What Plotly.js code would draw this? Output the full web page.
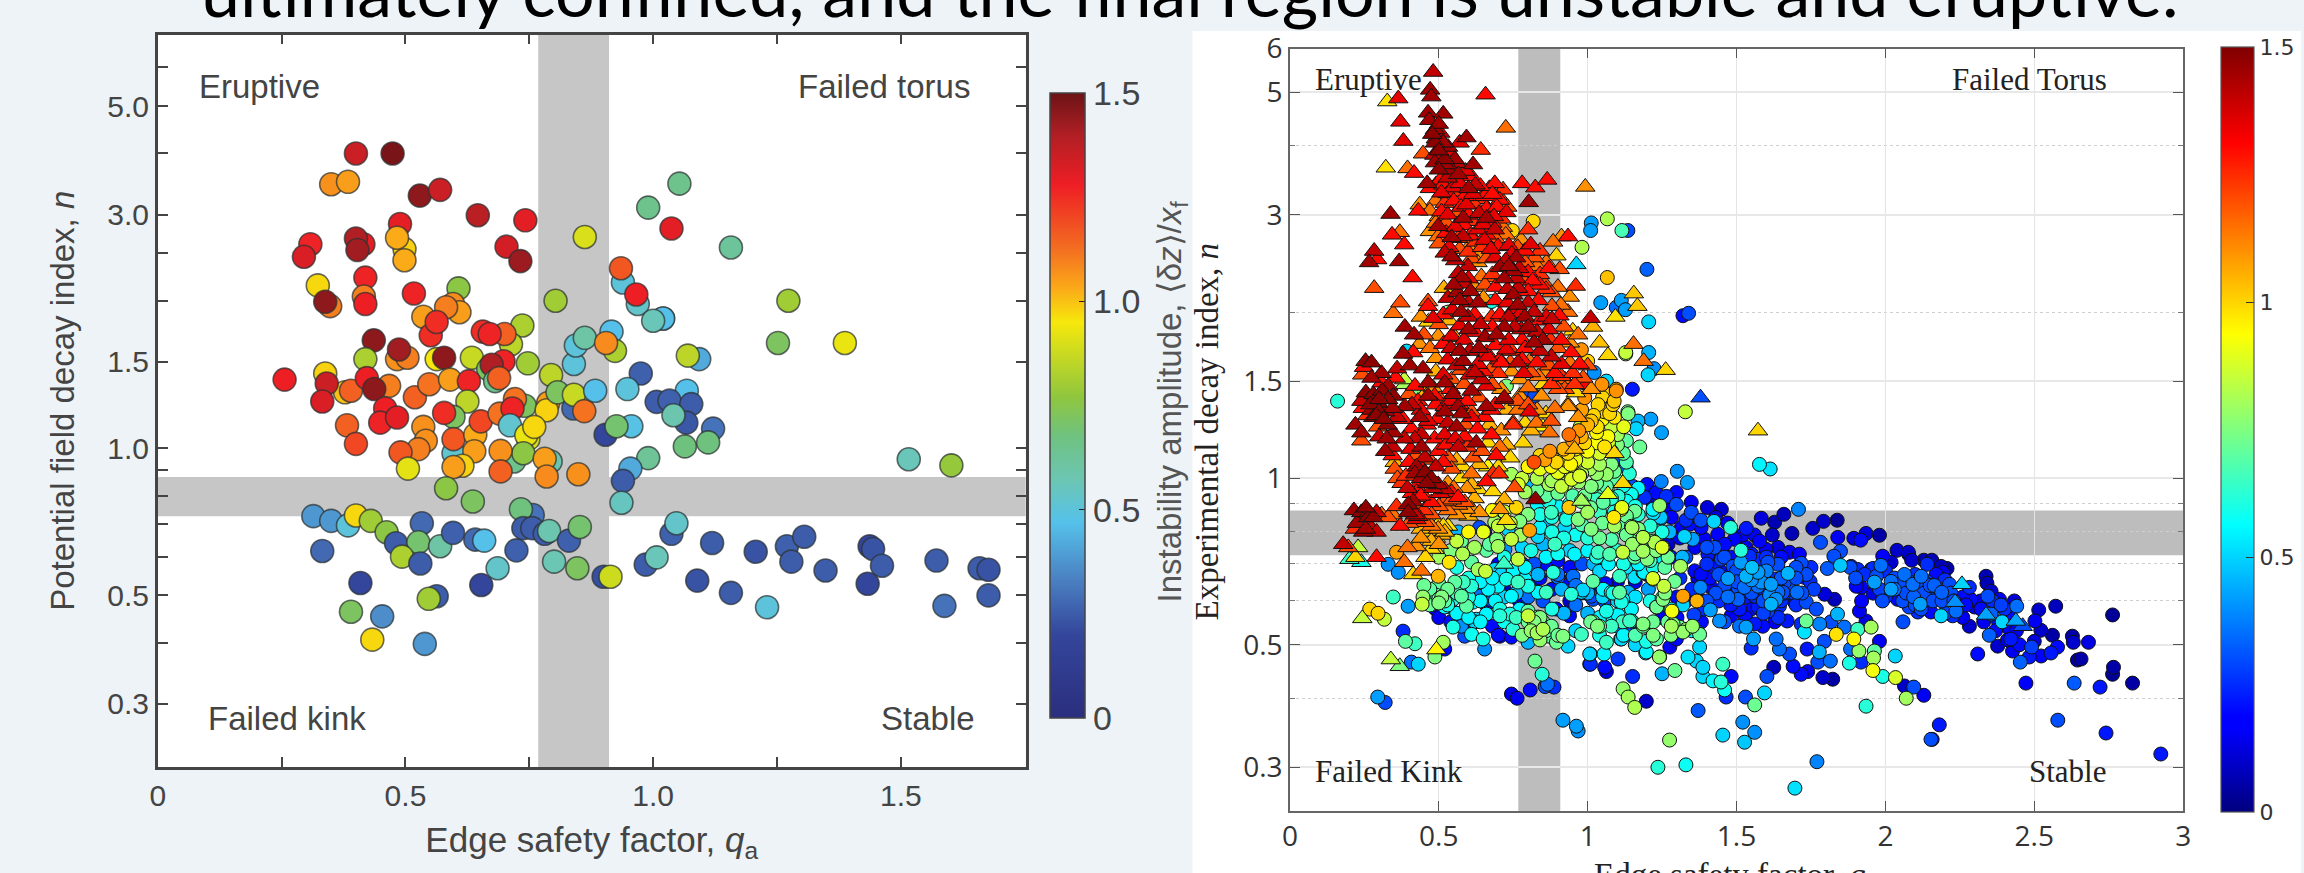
<!DOCTYPE html>
<html><head><meta charset="utf-8">
<script src="https://cdn.plot.ly/plotly-3.0.1.min.js"></script>
<style>html,body{margin:0;padding:0;background:#edf3f6;overflow:hidden}#c{width:2304px;height:873px}</style>
</head><body><div id="c"></div>
<script>
// [edge safety factor q, decay index n, instability amplitude]
const leftPoints=[[.40,4.0,1.35],[.474,4.0,1.48],[.35,3.46,1.07],[.384,3.5,1.05],[.529,3.28,1.45],[.57,3.37,1.35],[.646,2.99,1.38],[.742,2.92,1.3],[.489,2.87,1.3],[.498,2.55,.98],[.483,2.69,1.03],[.498,2.42,1.03],[.308,2.61,1.27],[.295,2.46,1.32],[.415,2.61,1.3],[.40,2.68,1.4],[.403,2.54,1.42],[.704,2.58,1.33],[.732,2.41,1.43],[1.037,2.81,1.3],[.99,3.1,.65],[1.053,3.47,.65],[1.157,2.57,.62],[.862,2.70,.9],[.939,2.18,.5],[.935,2.33,1.17],[.969,1.97,.53],[.966,2.06,1.28],[1.273,2.0,.8],[1.252,1.64,.72],[1.387,1.64,.93],[1.02,1.84,.25],[1.02,1.84,.47],[1.0,1.82,.56],[.803,2.0,.8],[.323,2.15,.97],[.348,1.95,1.1],[.338,1.99,1.45],[.419,2.23,1.27],[.416,2.04,1.1],[.419,1.97,1.28],[.517,2.07,1.27],[.607,2.12,.76],[.536,1.855,1.05],[.596,1.97,1.08],[.609,1.895,1.05],[.582,1.94,1.1],[.551,1.70,1.25],[.563,1.81,1.25],[.736,1.78,.82],[.713,1.63,.85],[.70,1.71,1.15],[.656,1.73,1.25],[.67,1.71,1.27],[.436,1.66,1.45],[.419,1.52,.82],[.483,1.52,1.07],[.504,1.53,1.1],[.487,1.59,1.42],[.563,1.52,.95],[.578,1.53,1.45],[.634,1.53,.87],[.747,1.49,.8],[.698,1.505,1.27],[.667,1.45,.72],[.674,1.48,1.4],[.681,1.37,.65],[.689,1.39,1.15],[.794,1.41,.85],[.256,1.38,1.28],[.338,1.42,.98],[.378,1.3,1.0],[.341,1.355,1.35],[.39,1.31,1.15],[.467,1.34,1.1],[.422,1.39,1.28],[.437,1.32,1.45],[.332,1.245,1.32],[.519,1.27,1.15],[.548,1.35,1.12],[.59,1.38,1.05],[.628,1.37,1.27],[.625,1.245,.85],[.459,1.205,1.28],[.449,1.127,1.27],[.483,1.155,1.3],[.597,1.158,.72],[.578,1.18,1.25],[.382,1.113,1.15],[.40,1.02,1.2],[.536,1.105,1.07],[.541,1.035,1.07],[.526,.995,1.1],[.49,.98,1.17],[.597,.976,.52],[.597,1.043,1.17],[.641,1.065,1.03],[.652,1.134,1.2],[.639,.985,1.05],[.741,1.22,.72],[.69,1.176,1.12],[.721,1.26,1.12],[.716,1.205,1.27],[.788,1.236,1.05],[.785,1.195,.98],[.711,1.113,.52],[.748,1.043,.9],[.744,1.062,.93],[.76,1.105,.97],[.719,.939,.65],[.738,.976,.76],[.692,.987,1.07],[.692,.896,1.15],[.615,.92,.98],[.597,.915,1.05],[.505,.908,.92],[.807,1.30,.72],[.839,1.205,.28],[.84,1.285,.87],[.861,1.19,1.12],[.883,1.31,.47],[.84,1.485,.5],[.844,1.62,.5],[.862,1.68,.6],[.916,1.73,.47],[.923,1.58,.82],[.905,1.64,1.08],[1.093,1.52,.42],[1.07,1.545,.85],[.975,1.42,.26],[.948,1.32,.5],[1.068,1.31,.47],[1.007,1.243,.25],[1.033,1.25,.26],[1.077,1.23,.25],[1.067,1.127,.24],[1.041,1.167,.58],[1.121,1.096,.3],[.904,1.065,.2],[.956,1.108,.48],[.926,1.108,.7],[1.064,1.008,.68],[1.111,1.027,.68],[.99,.954,.63],[.954,.908,.42],[.939,.857,.25],[.936,.773,.55],[.793,.939,.58],[.781,.951,1.05],[.785,.875,1.08],[.849,.884,1.07],[.582,.828,.76],[.636,.778,.72],[.757,.73,.3],[.733,.75,.68],[.314,.726,.38],[.35,.71,.38],[.384,.695,.5],[.40,.728,.97],[.43,.71,.8],[.462,.673,.76],[.481,.639,.25],[.533,.702,.28],[.526,.642,.7],[.493,.60,.82],[.57,.63,.6],[.596,.671,.26],[.641,.65,.28],[.659,.647,.47],[.738,.686,.25],[.756,.686,.25],[.781,.668,.25],[.79,.677,.58],[.83,.647,.26],[.852,.69,.7],[.724,.618,.26],[.53,.581,.25],[.332,.616,.28],[.409,.53,.2],[.653,.525,.2],[.686,.568,.53],[.80,.586,.57],[.847,.568,.72],[.90,.546,.22],[.914,.546,.88],[.563,.498,.25],[.547,.492,.8],[.39,.463,.72],[.453,.453,.36],[.433,.406,.97],[.539,.398,.38],[.985,.578,.25],[1.007,.598,.56],[1.037,.668,.26],[1.047,.702,.53],[1.119,.64,.25],[1.207,.614,.23],[1.27,.63,.26],[1.279,.586,.25],[1.305,.659,.25],[1.089,.536,.23],[1.157,.506,.25],[1.23,.473,.5],[1.348,.562,.25],[1.437,.63,.2],[1.444,.622,.23],[1.462,.575,.25],[1.433,.528,.2],[1.572,.589,.25],[1.588,.476,.3],[1.659,.568,.25],[1.677,.564,.23],[1.677,.50,.25],[1.516,.949,.56],[1.602,.922,.78]];

const rightTriangles=[[.481,5.44,1.4],[.471,5.05,1.45],[.475,4.91,1.45],[.657,4.95,1.3],[.327,4.81,.98],[.364,4.87,1.35],[.464,4.59,1.45],[.515,4.57,1.45],[.371,4.42,1.35],[.725,4.31,1.15],[.381,4.08,1.35],[.487,4.28,1.45],[.593,4.14,1.45],[.57,4.05,1.35],[.641,3.93,1.25],[.447,3.87,1.2],[.322,3.65,.98],[.395,3.64,1.15],[.417,3.57,1.3],[.487,4.05,1.48],[.531,3.98,1.45],[.52,3.78,1.48],[.487,3.73,1.45],[.554,3.78,1.45],[.615,3.70,1.45],[.542,3.62,1.45],[.992,3.37,1.1],[.78,3.42,1.3],[.824,3.36,1.3],[.864,3.47,1.3],[.802,3.16,1.45],[.461,3.42,1.45],[.688,3.42,1.3],[.716,3.33,1.25],[.623,3.40,1.4],[.548,3.36,1.35],[.509,3.29,1.35],[.587,3.24,1.3],[.654,3.24,1.3],[.705,3.19,1.3],[.436,3.13,1.1],[.431,3.05,1.3],[.338,3.01,1.45],[.727,3.03,1.35],[.509,3.04,1.3],[.593,3.13,1.35],[.66,2.96,1.45],[.582,2.96,1.45],[.498,2.86,1.45],[.343,2.76,1.3],[.369,2.79,1.15],[.688,2.82,1.4],[.80,2.82,1.25],[.543,2.73,1.45],[.582,2.74,1.4],[.632,2.82,1.35],[.498,2.74,1.15],[.934,2.74,1.3],[.884,2.68,1.15],[.912,2.74,1.1],[.384,2.65,1.3],[.283,2.58,1.4],[.266,2.46,1.45],[.293,2.49,1.3],[.367,2.47,1.45],[.777,2.70,1.1],[.809,2.65,1.35],[.654,2.70,1.35],[.699,2.63,1.3],[.52,2.56,1.4],[.543,2.52,1.45],[.598,2.57,1.25],[.637,2.54,1.1],[.688,2.51,1.35],[.76,2.51,1.45],[.822,2.51,1.2],[.895,2.53,1.0],[.861,2.46,1.15],[.906,2.39,1.2],[.962,2.44,.5],[.598,2.42,1.4],[.705,2.41,1.45],[.75,2.37,1.45],[.643,2.32,1.15],[.677,2.31,1.2],[.578,2.31,1.45],[.412,2.31,1.3],[.283,2.21,1.2],[.517,2.21,1.05],[.563,2.17,1.45],[.607,2.18,1.45],[.766,2.21,1.4],[.839,2.24,1.3],[.878,2.17,1.2],[.96,2.23,1.25],[.94,2.13,1.1],[1.155,2.16,1.02],[1.167,2.05,1.02],[1.093,1.96,.98],[.371,2.08,1.2],[.347,1.99,1.15],[.464,2.09,1.2],[.464,2.05,1.3],[.481,1.95,1.35],[.515,1.98,1.3],[.632,2.08,1.45],[.598,1.96,1.4],[.677,1.96,1.25],[.75,2.02,1.35],[.789,1.96,1.45],[.861,1.96,1.35],[.934,2.0,1.15],[1.01,1.95,1.4],[1.018,1.88,1.05],[.386,1.88,1.45],[.417,1.82,1.45],[.621,1.84,1.3],[.777,1.86,1.4],[.85,1.78,1.45],[.911,1.78,1.3],[.968,1.82,1.15],[1.04,1.76,1.03],[1.068,1.67,1.0],[1.154,1.75,1.15],[1.188,1.63,1.15],[1.262,1.57,1.0],[1.379,1.40,.3],[1.572,1.22,1.0],[.498,1.81,1.1],[.543,1.81,1.35],[.515,1.75,1.3],[.414,1.69,1.3],[.38,1.68,1.45],[.403,1.60,1.45],[.447,1.58,1.45],[.604,1.70,1.4],[.66,1.69,1.3],[.727,1.71,1.35],[.705,1.64,1.3],[.766,1.62,1.4],[.805,1.63,1.15],[.878,1.66,1.4],[.945,1.69,1.3],[.912,1.61,1.35],[.973,1.61,1.3],[.582,1.63,1.45],[.632,1.61,1.35],[.254,1.63,1.48],[.274,1.62,1.48],[.308,1.55,1.45],[.249,1.59,1.3],[.243,1.54,1.2],[.274,1.52,1.45],[.308,1.49,1.3],[.384,1.51,.85],[.386,1.48,.8],[.464,1.49,1.45],[.52,1.49,1.45],[.543,1.51,1.2],[.61,1.44,1.45],[.643,1.51,1.4],[.66,1.47,1.35],[.772,1.51,1.1],[.845,1.41,1.1],[.923,1.51,1.15],[.956,1.48,1.25],[.878,1.48,1.25],[.621,1.555,1.4],[.515,1.54,1.35],[.677,1.58,1.2],[.71,1.62,1.3],[.81,1.555,1.2],[.855,1.555,1.1],[.912,1.53,1.25],[1.012,1.45,1.1],[.923,1.45,1.2],[.464,1.41,1.45],[.52,1.35,1.35],[.565,1.35,1.45],[.61,1.32,1.2],[.654,1.29,1.3],[.72,1.40,1.45],[.75,1.26,1.2],[.805,1.32,1.35],[.878,1.27,1.2],[.934,1.36,1.05],[.968,1.29,1.1],
[.347,1.41,1.48],[.296,1.37,1.48],[.319,1.32,1.45],[.263,1.40,1.3],[.386,1.35,1.45],[.28,1.29,1.48],[.328,1.25,1.48],[.296,1.24,1.2],[.22,1.25,1.45],[.24,1.21,1.45],[.24,1.17,1.2],[.347,1.21,1.45],[.408,1.23,1.3],[.436,1.29,1.45],[.464,1.27,1.35],[.52,1.32,1.45],[.576,1.31,1.45],[.61,1.29,1.35],[.486,1.41,1.3],[.548,1.42,1.45],[.453,1.42,1.05],[.57,1.36,1.3],[.677,1.33,1.3],[.719,1.39,1.4],[.772,1.41,1.1],[.766,1.33,1.15],[.749,1.25,1.25],[.828,1.26,1.15],[.934,1.35,1.1],[.872,1.21,1.15],[.956,1.13,1.05],[1.09,1.11,1.0],[.677,1.20,1.3],[.587,1.19,1.3],[.52,1.20,1.35],[.486,1.18,1.3],[.442,1.20,1.4],[.442,1.14,1.45],[.42,1.18,1.4],[.626,1.16,1.45],[.565,1.14,1.4],[.453,1.09,1.4],[.531,1.09,1.2],[.615,1.09,1.2],[.693,1.10,1.3],[.727,1.15,1.05],[.783,1.16,1.0],[.352,1.04,1.2],[.361,1.0,1.2],[.375,.98,1.25],[.352,1.07,1.05],[.61,1.02,1.15],[.543,1.04,1.2],[.682,1.02,1.25],[.702,1.02,1.25],[.66,.987,1.3],[.632,.955,1.0],[.61,.975,1.05],[.682,.947,1.0],[.755,.963,1.2],[.72,.916,1.05],[.705,.879,1.1],[.825,.916,1.48],[.425,.967,1.3],[.453,1.025,1.48],[.475,1.0,1.48],[.498,.975,1.45],[.52,.955,1.4],[.543,.943,1.3],[.565,.924,1.3],[.587,.905,1.2],[.61,.88,1.1],[.637,.868,1.1],[.425,.943,1.3],[.453,.924,1.25],[.475,.905,1.3],[.52,.908,1.2],[.397,.897,1.48],[.414,.908,1.45],[.358,.89,1.25],[.33,.85,1.2],[.308,.86,1.15],[.24,.868,1.48],[.265,.868,1.48],[.263,.85,1.48],[.291,.868,1.4],[.397,.868,1.48],[.425,.843,1.35],[.431,.854,1.4],[.453,.833,1.2],[.475,.82,1.15],[.498,.81,1.1],[.509,.79,1.05],[.475,.77,1.05],[.486,.744,1.0],[.425,.753,1.1],[.531,.82,.98],[.498,.826,1.0],[.52,.80,1.05],[.218,.81,1.25],[.246,.80,1.45],[.268,.82,1.4],[.291,.80,1.4],[.179,.76,1.4],[.196,.75,1.2],[.229,.75,.85],[.22,.72,1.0],[.24,.705,.6],[.291,.72,1.3],[.2,.714,.65],[.384,.705,1.15],[.442,.68,1.15],[.414,.67,1.0],[.719,.70,.65],[.492,.49,.95],[.339,.47,.85],[.369,.457,.75],[.243,.558,.85],[.727,.84,1.0],[1.118,.98,1.0],[1.068,.936,.9],[.979,.91,.8],[2.257,.643,.5],[2.234,.597,.4],[2.338,.566,.43],[2.438,.552,.43],[2.461,.54,.3]];

const rightTrianglesCore=[[.468,4.45,1.45],[.50,4.38,1.45],[.478,4.2,1.48],[.505,4.22,1.4],[.49,4.12,1.45],[.515,4.05,1.45],[.50,3.92,1.48],[.535,3.9,1.35],[.485,3.85,1.4],[.52,3.7,1.45],[.50,3.62,1.48],[.56,3.72,1.4],[.59,3.6,1.35],[.565,3.55,1.45],[.53,3.5,1.4],[.61,3.52,1.3],[.505,3.47,1.3],
[.47,3.35,1.3],[.49,3.4,1.25],[.515,3.4,1.3],[.57,3.42,1.35],[.60,3.35,1.45],[.64,3.38,1.3],[.67,3.35,1.25],[.53,3.28,1.3],[.56,3.3,1.25],[.615,3.27,1.35],[.64,3.2,1.25],[.68,3.27,1.3],[.71,3.2,1.2],[.49,3.18,1.15],[.52,3.15,1.25],[.55,3.18,1.3],[.575,3.1,1.3],[.62,3.13,1.25],[.66,3.08,1.3],[.695,3.1,1.3],[.73,3.1,1.2],[.47,3.05,1.15],[.50,2.98,1.1],[.53,3.0,1.35],[.56,3.03,1.2],[.60,3.0,1.3],[.635,3.02,1.4],[.685,2.98,1.35],[.71,2.95,1.25],[.49,2.9,1.15],[.525,2.9,1.2],[.555,2.85,1.35],[.585,2.87,1.3],[.615,2.92,1.25],[.65,2.88,1.35],[.68,2.9,1.3],[.715,2.85,1.15],[.47,2.8,1.1],
[.525,2.78,1.3],[.565,2.72,1.25],[.605,2.75,1.3],[.625,2.68,1.25],[.66,2.76,1.3],[.69,2.72,1.2],[.725,2.76,1.15],[.50,2.66,1.2],[.535,2.62,1.35],[.57,2.6,1.2],[.60,2.62,1.1],[.645,2.62,1.25],[.675,2.6,1.35],[.735,2.64,1.35],[.765,2.62,1.2],[.79,2.58,1.3],[.84,2.58,1.25],[.555,2.48,1.4],[.61,2.5,1.2],[.63,2.46,1.1],[.66,2.5,1.2],[.725,2.48,1.4],[.745,2.55,1.35],[.79,2.46,1.2],[.83,2.42,1.15],[.87,2.4,1.3],[.735,2.42,1.45],[.77,2.40,1.4],[.80,2.36,1.3],[.84,2.34,1.25],[.68,2.34,1.25],[.72,2.30,1.45],[.76,2.3,1.4],[.785,2.28,1.2],[.815,2.28,1.3],[.85,2.27,1.2],[.565,2.35,1.4],[.60,2.3,1.35],[.55,2.24,1.45],[.585,2.25,1.4],[.62,2.22,1.1],[.655,2.24,1.2],[.69,2.22,1.3],[.73,2.2,1.4],[.75,2.15,1.45],[.80,2.18,1.3],[.86,2.2,1.25],[.90,2.22,1.15],
[.53,2.12,1.4],[.57,2.1,1.45],[.60,2.08,1.4],[.65,2.12,1.1],[.69,2.1,1.3],[.73,2.08,1.35],[.765,2.06,1.45],[.80,2.08,1.4],[.835,2.1,1.3],[.88,2.05,1.2],[.91,2.06,1.15],[.545,2.02,1.35],[.575,2.0,1.45],[.62,1.98,1.3],[.705,1.98,1.3],[.735,1.96,1.4],[.775,1.99,1.35],[.82,2.0,1.4],[.84,1.93,1.3],[.88,1.94,1.4],[.905,1.97,1.3],[.44,1.96,1.1],[.465,1.92,1.0],[.50,1.9,1.2],[.535,1.93,1.05],[.57,1.89,1.35],[.60,1.86,1.45],[.64,1.9,1.4],[.68,1.88,1.3],[.72,1.88,1.45],[.755,1.88,1.4],[.80,1.88,1.45],[.83,1.84,1.4],[.87,1.86,1.35],[.92,1.88,1.2],[.95,1.85,1.0],[.45,1.82,1.2],[.555,1.8,1.1],[.585,1.78,1.35],[.655,1.8,1.45],[.695,1.82,1.45],[.735,1.78,1.35],[.78,1.78,1.3],[.82,1.76,1.45],[.875,1.78,1.25],[.94,1.76,1.1],
[.435,1.75,1.1],[.47,1.72,1.15],[.54,1.72,1.4],[.57,1.7,1.45],[.635,1.72,1.45],[.69,1.74,1.3],[.745,1.7,1.25],[.79,1.72,1.3],[.84,1.7,1.4],[.90,1.72,1.2],[.49,1.65,1.1],[.53,1.64,1.35],[.56,1.6,1.4],[.665,1.66,1.35],[.74,1.62,1.2],[.78,1.64,1.3],[.83,1.62,1.3],[.87,1.6,1.2],[.94,1.62,1.15],[1.0,1.6,1.2],[.36,1.58,1.4],[.49,1.56,1.05],[.575,1.57,1.2],[.605,1.54,1.35],[.65,1.56,1.3],[.70,1.55,1.25],[.745,1.56,1.1],[.785,1.55,1.35],[.835,1.53,1.15],[.89,1.55,1.3],[.95,1.55,1.25],[.985,1.52,1.2],[.355,1.52,1.3],[.33,1.47,1.45],[.42,1.47,1.3],[.48,1.46,1.1],[.54,1.45,1.3],[.585,1.48,1.2],[.68,1.48,1.2],[.71,1.45,1.1],[.80,1.46,1.15],[.85,1.48,1.0],[.90,1.45,1.2],[.96,1.43,1.0],
[.255,1.43,1.48],[.28,1.42,1.48],[.31,1.44,1.48],[.33,1.39,1.48],[.24,1.38,1.4],[.27,1.36,1.48],[.30,1.39,1.48],[.245,1.34,1.3],[.275,1.33,1.45],[.30,1.32,1.48],[.345,1.34,1.45],[.26,1.3,1.25],[.29,1.3,1.48],[.315,1.28,1.48],[.36,1.29,1.4],[.38,1.28,1.3],[.41,1.36,1.4],[.43,1.38,1.3],[.40,1.42,1.2],[.44,1.33,1.35],[.49,1.36,1.3],[.505,1.39,1.2],[.54,1.38,1.35],[.595,1.38,1.3],[.635,1.4,1.2],[.66,1.35,1.45],[.69,1.36,1.3],[.73,1.33,1.05],[.765,1.38,1.2],[.80,1.36,1.2],[.83,1.33,1.1],[.86,1.31,1.0],[.89,1.34,1.15],[.46,1.25,1.3],[.495,1.28,1.3],[.53,1.26,1.4],[.56,1.24,1.45],[.59,1.25,1.2],[.63,1.23,1.3],[.67,1.25,1.05],[.71,1.22,1.1],[.79,1.26,1.0],[.81,1.22,1.05],[.85,1.24,.95],
[.30,1.19,1.4],[.325,1.18,1.45],[.345,1.14,1.4],[.32,1.12,1.45],[.345,1.1,1.3],[.385,1.18,1.4],[.405,1.13,1.35],[.425,1.1,1.2],[.40,1.07,1.3],[.425,1.05,1.45],[.445,1.04,1.35],[.47,1.08,1.2],[.50,1.12,1.3],[.525,1.15,1.3],[.555,1.18,1.35],[.595,1.14,1.25],[.645,1.12,1.2],[.665,1.16,1.0],[.705,1.14,1.15],[.74,1.09,1.0],[.49,1.05,1.4],[.515,1.07,1.3],[.56,1.08,1.05],[.58,1.05,1.0],[.635,1.06,1.05],[.665,1.05,.95],[.70,1.05,1.0],[.39,1.01,1.25],[.42,1.02,1.45],[.44,1.0,1.45],[.46,.98,1.48],[.48,.96,1.4],[.505,.94,1.35],[.53,.98,1.1],[.55,.96,1.15],[.575,1.0,1.0],[.595,.96,1.1],[.62,.92,1.05],[.545,.915,1.2],[.565,.895,1.15],[.59,.88,1.1],[.41,.94,1.3],[.395,.96,1.4],[.44,.93,1.3],[.50,.89,1.2],[.53,.875,1.15],[.56,.86,1.1],[.60,.855,1.05],[.42,.89,1.2],[.45,.875,1.25],[.475,.86,1.2],[.42,.86,1.4],[.40,.83,1.2],[.44,.81,1.05],[.465,.80,1.0],[.455,.84,1.1],[.49,.78,1.0],[.44,.78,1.1],[.475,.745,1.0],[.455,.72,1.0],[.50,.76,1.1],[.515,.82,1.0],[.395,.75,1.15],[.37,.82,1.3],[.345,.86,1.15],[.25,.85,1.45],[.28,.85,1.48],[.255,.885,1.48],[.225,.83,1.45],[.255,.81,1.45],[.215,.875,1.45]];

const rightCircles=[[.979,1.71,1.1],[1.128,1.69,.85],[1.205,1.69,.45],[1.223,1.58,.4],[1.203,1.54,.5],[1.15,1.45,.22],[1.096,1.44,1.1],[1.048,1.48,1.1],[1.063,1.50,.5],[1.022,1.555,.4],[1.0,1.63,1.0],[.987,1.49,1.32],[.99,1.40,1.1],[1.089,1.38,1.02],[1.068,1.42,1.0],[1.05,1.40,1.0],[1.074,1.34,1.0],[1.057,1.32,1.0],[1.074,1.31,1.0],[1.09,1.29,.97],[1.136,1.31,.75],[1.169,1.27,.45],[1.212,1.28,.42],[1.328,1.32,.85],[1.248,1.21,.42],[1.121,1.24,.9],[1.012,1.27,1.02],[1.032,1.24,.98],[1.13,1.17,.7],[1.163,1.23,.5],[1.175,1.14,.72],[1.068,1.19,.93],[1.057,1.14,.98],[.979,1.19,1.05],[.937,1.20,1.15],[.873,1.12,1.1],[.82,1.07,1.2],[.856,1.08,1.08],[.895,1.07,1.0],[.934,1.11,1.0],[.943,1.06,.95],[.974,1.01,.85],[1.007,1.04,.8],[1.063,1.017,.78],[1.019,.967,.7],[1.046,.967,.68],[1.093,.996,.7],[1.129,1.05,.35],[1.102,1.07,.3],[1.152,.967,.3],[1.301,1.03,.4],[1.335,.983,.42],[1.247,.987,.38],[1.199,.975,.2],[1.298,.943,.2],[1.23,.943,.2],[1.264,.928,.25],[1.205,.928,.1],[.87,.975,.8],[.912,.967,.85],[.946,.996,.88],[.90,1.025,.9],[.744,1.017,.8],[.805,.967,.45],[.87,.908,.6],[.89,.943,.4],[.937,.886,1.02],[.968,.843,.75],[.929,.843,.6],[1.05,.928,.65],[1.113,.879,.9],[1.088,.85,.97],[1.149,.935,.55],[1.16,.89,.6],[1.242,.893,.78],[1.245,.85,.48],
[.16,1.38,.62],[.428,1.42,.75],[1.096,1.45,1.07],[1.035,1.36,1.0],[1.085,1.36,1.0],[1.135,1.32,.72],[.975,1.24,.85],[.923,1.05,.9],[.878,1.05,.95],[.767,.975,.88],[.811,.967,.45],[.973,1.01,.88],[1.063,.967,.7],[1.012,.967,.75],[1.102,.928,.62],[1.147,.935,.58],[1.191,.924,.25],[.979,.908,.75],[1.0,.868,.8],[1.012,.809,.75],[.973,.843,.65],[1.052,.905,.7],[1.115,.886,.9],[1.147,.819,.75],[1.186,.782,.8],[1.113,.815,.7],[1.225,.766,.82],[1.253,.75,.85],[1.118,.735,.85],[1.169,.776,.72],[.878,.916,.5],[.878,.868,.65],[.861,.836,.45],[.923,.815,.5],[.76,.886,1.0],[.80,.861,.75],[.772,.836,.75],[.805,.805,1.08],[.744,.776,.85],[.775,.789,.8],[.699,.753,.8],[.66,.741,.7],[.688,.833,.8],[.733,.809,.5],[.833,.785,.5],[.85,.76,.45],[.89,.76,.65],[.576,.77,.72],[.535,.705,.98],[.498,.665,1.05],[.766,.714,.85],[.657,.679,.85],[.632,.684,.8],[.61,.705,.7],[.766,.649,.65],[.727,.657,.6],[.688,.684,.5],[.699,.638,.55],[.666,.63,.55],[.744,.612,.55],[.789,.657,.55],[.833,.67,.45],[.884,.676,.62],[.956,.729,.55],[1.035,.735,.65],[1.074,.729,.68],[1.04,.679,.5],[1.018,.651,.7],[1.085,.62,.6],[1.13,.699,.5],[1.186,.676,.55],[1.22,.657,.8],[1.256,.638,.85],[1.253,.604,.75],[1.231,.585,.72],[1.281,.54,.8],[1.186,.54,.72],[1.197,.507,.6],[1.197,.485,.55],[1.241,.475,.78],[1.118,.604,.55],[1.147,.58,.55],[1.107,.622,.7],[1.063,.575,.6],[1.085,.561,.55],[1.118,.55,.65],[1.147,.552,.62],[1.063,.505,.65],[1.007,.481,.5],[1.102,.471,.27],[1.007,.461,.2],[1.057,.455,.2],[1.111,.512,.4],[1.141,.522,.3],[.912,.63,.45],[.979,.622,.5],[.945,.617,.62],[1.052,.63,.55],[1.018,.604,.3],[.861,.622,.65],[.833,.622,.55],[.80,.638,.6],[.895,.58,.2],[.939,.564,.2],[.80,.564,.85],[.85,.533,.82],[.822,.54,.72],[.833,.561,.75],[.878,.54,.72],[.917,.518,.75],[.895,.505,.72],[.873,.518,.7],[.979,.522,.65],[1.018,.55,.72],[1.04,.54,.7],[.934,.497,.5],[.80,.505,.45],[.749,.533,.62],[.705,.58,.6],[.739,.568,.6],[.772,.58,.55],[.626,.556,.5],[.66,.568,.55],[.705,.564,.62],[.705,.518,.2],[.744,.516,.2],[.654,.491,.4],[.61,.522,.58],[.649,.512,.6],[.621,.55,.5],[.587,.518,.3],[.576,.54,.4],[.548,.538,.6],[.593,.587,.7],[.615,.597,.55],[.576,.612,.7],[.61,.638,.62],[.582,.649,.65],[.554,.649,.7],[.637,.612,.35],[.671,.604,.3],[.654,.665,.45],[.52,.622,.7],[.548,.604,.6],[.492,.604,.45],[.537,.585,.3],[.447,.61,.78],[.444,.592,.85],[.489,.58,.15],[.397,.587,.42],[.347,.61,.65],[.268,.58,1.0],[.296,.57,1.0],[.317,.556,.85],[.38,.529,.25],[.388,.507,.7],[.42,.502,.65],[.515,.505,.8],[.52,.491,.2],[.431,.461,.5],[.408,.465,.35],[.487,.475,.75],[.33,.699,.4],[.364,.676,.4],[.358,.735,1.08],[.565,.80,.45],[.654,.80,.2],[.637,.815,.3],[.722,.744,.4],[.694,.776,.75],
[1.577,1.06,.55],[1.613,1.04,.52],[1.158,.872,.72],[1.149,.815,.8],[1.186,.782,.83],[1.25,.75,.88],[1.22,.77,.75],[1.186,.738,.8],[1.158,.72,.7],[1.2,.714,.75],[1.219,.879,.55],[1.247,.847,.45],[1.298,.897,.3],[1.348,.868,.3],[1.348,.905,.15],[1.402,.886,.12],[1.449,.879,.1],[1.424,.836,.5],[1.48,.815,.62],[1.325,.785,.5],[1.381,.815,.2],[1.281,.85,.18],[1.315,.815,.18],[1.342,.826,.2],[1.353,.776,.42],[1.275,.80,.45],[1.392,.776,.15],[1.437,.792,.18],[1.426,.75,.3],[1.404,.729,.22],[1.459,.72,.3],[1.493,.776,.18],[1.533,.812,.22],[1.583,.847,.12],[1.628,.833,.07],[1.659,.861,.08],[1.708,.879,.38],[1.686,.795,.07],[1.756,.812,.1],[1.792,.836,.1],[1.838,.84,.03],[1.782,.766,.3],[1.84,.782,.15],[1.894,.779,.12],[1.917,.773,.2],[1.935,.795,.12],[1.98,.789,.05],[2.039,.741,.1],[2.077,.735,.1],[1.849,.738,.3],[1.827,.723,.3],[1.805,.687,.32],[1.849,.696,.48],[1.885,.693,.25],[1.991,.723,.18],[1.985,.696,.35],[1.952,.684,.22],[1.902,.638,.18],[1.919,.635,.15],[1.958,.62,.13],[1.963,.649,.42],[2.019,.63,.42],[2.064,.67,.35],[2.092,.643,.35],[2.12,.665,.35],[2.117,.592,.42],[1.99,.6,.3],[2.058,.6,.3],[2.14,.699,.25],[2.13,.649,.3],[1.639,.75,.12],[1.577,.77,.18],[1.532,.75,.15],[1.599,.744,.15],[1.678,.735,.15],[1.711,.729,.18],[1.515,.741,.62],[1.514,.705,.42],[1.552,.69,.47],[1.572,.676,.42],[1.639,.699,.3],[1.673,.673,.45],[1.717,.702,.3],[1.734,.67,.3],[1.747,.651,.25],[1.616,.643,.42],[1.532,.665,.45],[1.471,.659,.42],[1.426,.69,.22],[1.449,.676,.2],[1.37,.659,.12],[1.379,.635,.38],[1.415,.635,.17],[1.505,.635,.3],[1.572,.638,.35],[1.673,.638,.3],[1.703,.622,.35],[1.611,.615,.4],[1.561,.612,.25],[1.533,.61,.22],[1.616,.592,.45],[1.471,.61,.35],[1.734,.597,.3],[1.768,.58,.3],[1.695,.597,.2],[1.644,.587,.25],[1.572,.585,.22],[1.51,.58,.22],[1.412,.578,.42],[1.357,.566,.28],[1.382,.55,.2],[1.443,.552,.4],[1.482,.564,.18],[1.51,.54,.35],[1.532,.538,.42],[1.561,.545,.22],[1.588,.54,.2],[1.628,.55,.15],[1.67,.552,.22],[1.717,.545,.25],[1.734,.552,.72],[1.728,.527,.52],[1.779,.545,.38],[1.796,.617,.12],[1.829,.604,.08],[1.839,.568,.45],[1.835,.522,.98],[1.894,.512,.95],[1.913,.575,.15],[1.935,.552,.12],[1.907,.533,.65],[1.952,.538,.8],[1.98,.507,.15],[1.862,.538,.35],[1.817,.55,.3],[1.795,.507,.3],[2.059,.55,.3],[2.033,.477,.5],[1.911,.487,.78],[1.879,.463,.6],[1.963,.487,.7],[1.96,.473,.8],[1.958,.449,.92],[2.034,.436,.88],[1.991,.438,.6],[1.883,.491,.35],[1.918,.465,.25],[1.778,.485,.45],[1.815,.467,.35],[1.773,.465,.3],[1.737,.491,.22],[1.79,.436,.1],[1.823,.433,.05],[1.739,.447,.15],[1.717,.442,.2],[1.69,.457,.2],[1.678,.481,.3],[1.644,.491,.35],[1.633,.512,.35],[1.549,.493,.25],[1.557,.512,.42],[1.625,.455,.08],[1.602,.438,.3],[1.594,.409,.5],[1.53,.402,.3],[1.561,.389,.72],[1.465,.402,.25],[1.448,.428,.62],[1.46,.414,.58],[1.482,.438,.2],[1.454,.461,.65],[1.421,.43,.55],[1.387,.438,.5],[1.365,.467,.5],[1.337,.475,.52],[1.387,.455,.5],[1.376,.495,.5],[1.37,.527,.32],[1.298,.512,.2],[1.276,.495,.15],[1.293,.449,.72],[1.25,.443,.45],[1.242,.475,.75],[1.195,.483,.5],[1.231,.512,.7],[1.269,.55,.72],[1.331,.533,.78],[1.287,.545,.75],[1.309,.538,.72],[1.32,.527,.78],[1.376,.522,.72],[1.352,.54,.78],[1.283,.575,.92],[1.232,.585,.72],[1.186,.545,.75],[1.141,.552,.65],[1.102,.566,.55],[1.079,.622,.55],[1.113,.597,.6],[1.136,.622,.45],[1.158,.662,.52],[1.129,.69,.52],[1.107,.665,.65],[1.189,.676,.55],[1.219,.659,.88],[1.292,.651,.72],[1.312,.693,.8],[1.259,.69,.7],[1.318,.72,.45],[1.236,.714,.55],[1.204,.63,.42],[1.25,.607,.7],[1.32,.612,1.08],[1.367,.6,1.05],[.984,.628,.5],[1.057,.6,.3],[1.012,.612,.3],[.951,.665,.35],[.90,.662,.35],[1.113,.512,.5],[1.01,.55,.72],[1.033,.54,.75],[1.009,.461,.25],[1.009,.481,.48],[1.055,.481,.55],[1.063,.447,.12],[1.151,.438,.25],[1.119,.416,.78],[1.136,.402,.8],[1.158,.385,.82],[1.197,.395,.1],[1.371,.38,.32],[1.935,.387,.62],[1.275,.336,.78],[1.454,.343,.5],[1.561,.347,.4],[1.521,.362,.4],[1.527,.333,.48],[.917,.365,.42],[.962,.356,.42],[.968,.349,.4],[2.07,.40,.8],[2.095,.419,.3],[2.064,.421,.1],[2.129,.405,.15],[2.153,.337,.3],
[1.572,.714,.25],[1.605,.705,.3],[1.544,.723,.25],[1.488,.693,.3],[1.415,.723,.2],[1.449,.714,.28],[1.661,.649,.3],[1.628,.657,.25],[1.583,.649,.4],[1.526,.635,.35],[1.594,.625,.25],[1.549,.58,.2],[1.605,.575,.28],[1.656,.622,.3],[1.684,.622,.28],[1.639,.622,.35],[1.437,.604,.2],[1.728,.662,.2],[1.505,.604,.33],[1.633,.604,.4],
[2.078,.729,.08],[2.088,.711,.1],[2.129,.711,.07],[2.156,.711,.07],[2.187,.693,.08],[2.207,.687,.05],[2.192,.676,.15],[2.019,.705,.1],[1.958,.687,.25],[1.907,.684,.25],[1.882,.69,.3],[2.041,.604,.2],[2.095,.61,.33],[2.109,.573,.25],[2.153,.573,.2],[2.187,.564,.5],[2.164,.64,.33],[2.189,.622,.33],[2.215,.643,.3],[2.159,.604,.25],[2.081,.649,.3],[2.019,.651,.35],[2.142,.612,.28],[2.237,.575,.35],[2.226,.564,.25],[2.282,.635,.25],[2.287,.604,.2],[2.299,.592,.15],[2.282,.54,.1],[2.338,.665,.07],[2.341,.646,.07],[2.355,.625,.1],[2.344,.612,.3],[2.383,.604,.18],[2.388,.59,.28],[2.433,.6,.12],[2.441,.587,.35],[2.355,.568,.33],[2.321,.58,.2],[2.392,.55,.5],[2.41,.538,.15],[2.349,.52,.33],[2.377,.497,.1],[2.421,.512,.22],[2.427,.487,.15],[2.31,.481,.2],[2.453,.465,.33],[2.483,.475,.22],[2.523,.477,.18],[2.556,.483,.22],[2.578,.495,.2],[2.491,.495,.28],[2.5,.507,.12],[2.522,.531,.1],[2.502,.552,.15],[2.515,.578,.1],[2.572,.587,.08],[2.561,.52,.05],[2.628,.518,.05],[2.631,.505,.1],[2.682,.505,.13],[2.645,.469,.05],[2.657,.471,.05],[2.763,.566,.03],[2.766,.455,.05],[2.763,.442,.03],[2.83,.426,.05],[2.472,.426,.18],[2.634,.426,.32],[2.721,.419,.22],[2.579,.365,.3],[2.741,.346,.22],[2.925,.317,.22],[2.181,.358,.22],[2.157,.337,.2],
[.295,.402,.42],[.32,.393,.3],[.744,.407,.15],[.763,.40,.15],[.807,.414,.2],[.857,.42,.3],[.887,.419,.25],[.865,.424,.35],[.823,.467,.72],[.847,.442,.62],[1.236,.30,.62],[1.33,.303,.58],[1.77,.307,.38],[1.696,.275,.52],
[1.012,2.90,.42],[1.01,2.81,.42],[1.066,2.95,.82],[1.115,2.81,.67],[1.135,2.81,.3],[.981,2.62,.82],[.817,2.92,1.0],[.747,2.81,1.0],[1.199,2.39,.33],[1.066,2.31,1.03],[1.044,2.08,.42],[1.113,2.10,.42],[1.096,2.04,.35],[1.127,2.02,.42],[1.32,1.97,.2],[1.339,1.99,.3],[1.205,1.92,.5],[1.128,1.68,.78],[.677,2.09,.6],[.531,2.0,.75],[.392,1.70,.5],[.727,1.47,.75],[.431,1.42,.7],[.789,1.42,.3],[.822,1.41,.3]];

const rightCirclesCore=[[.98,1.33,1.08],[1.02,1.3,1.0],[1.05,1.28,.95],[1.0,1.25,1.05],[.97,1.22,1.1],[1.03,1.21,.95],[1.08,1.24,.85],[1.1,1.2,.8],[.95,1.17,1.1],[.99,1.16,1.0],[1.03,1.16,.93],[1.07,1.16,.88],[1.1,1.15,.75],[.92,1.13,1.05],[.96,1.13,.98],[1.0,1.12,.93],[1.04,1.11,.88],[1.08,1.12,.82],[1.12,1.11,.7],[.84,1.1,1.0],[.88,1.09,.95],[.92,1.08,.93],[.96,1.08,.9],[1.0,1.07,.87],[1.04,1.06,.8],[1.08,1.06,.75],[1.13,1.07,.68],[.80,1.05,.95],[.84,1.04,.9],[.9,1.03,.85],[.94,1.03,.85],[.98,1.02,.82],[1.03,1.02,.78],[1.09,1.03,.72],[1.14,1.02,.62],[.78,1.0,.85],[.83,1.0,.82],[.88,.99,.8],[.93,.98,.82],[.97,.985,.78],[1.03,.98,.72],[1.07,.97,.68],[1.12,.97,.6],[1.17,.96,.55],[.79,.945,.8],[.83,.95,.72],[.86,.93,.7],[.9,.94,.72],[.95,.93,.68],[.99,.93,.72],[1.03,.925,.65],[1.08,.92,.62],[1.13,.91,.58],[.83,.9,.55],[.9,.89,.55],[.94,.9,.6],[1.01,.885,.72],[1.04,.87,.65],[1.09,.87,.6],[1.13,.855,.72],[1.17,.86,.62],[1.22,.865,.52],[.84,.86,.6],[.88,.85,.6],[.93,.85,.55],[.98,.825,.68],[1.05,.83,.72],[1.09,.82,.8],[1.13,.79,.72],[1.17,.81,.75],[1.21,.82,.62],[1.25,.8,.6],[.84,.815,.55],[.88,.8,.6],[.92,.78,.6],[.96,.79,.58],[1.0,.78,.62],[1.04,.78,.72],[1.08,.775,.68],[1.15,.76,.78],[1.2,.75,.72],[1.23,.74,.75],[.86,.72,.55],[.9,.73,.58],[.94,.74,.5],[1.0,.74,.55],[1.03,.72,.6],[1.1,.74,.62],[1.16,.73,.7],[1.21,.71,.65],[1.27,.72,.72],
[.6,.885,.95],[.68,.875,.95],[.72,.87,.85],[.7,.82,.85],[.74,.83,.85],[.65,.80,.9],[.6,.8,.95],[.56,.77,.85],[.62,.75,.8],[.67,.76,.7],[.72,.72,.6],[.78,.75,.5],[.75,.78,.45],[.81,.74,.6],[.58,.73,.82],[.54,.74,.75],[.5,.72,.8],
[.56,.69,.6],[.6,.66,.6],[.64,.65,.55],[.68,.66,.55],[.71,.67,.5],[.75,.68,.55],[.79,.69,.55],[.82,.7,.3],[.86,.7,.2],[.9,.71,.2],[.94,.69,.2],[.98,.7,.3],[1.02,.7,.45],[1.07,.7,.55],[1.12,.7,.6],[1.17,.7,.55],[1.22,.69,.6],[.5,.645,.7],[.53,.63,.72],[.56,.62,.65],[.6,.61,.6],[.64,.6,.55],[.69,.6,.55],[.72,.61,.5],[.76,.62,.48],[.8,.61,.35],[.85,.6,.3],[.88,.63,.2],[.92,.65,.2],[.96,.64,.35],[1.0,.62,.45],[1.05,.61,.5],[1.1,.6,.5],[1.16,.61,.52],[1.21,.6,.6],[1.26,.62,.75],[.47,.59,.72],[.52,.585,.55],[.56,.57,.55],[.6,.56,.55],[.64,.55,.55],[.68,.54,.2],[.72,.55,.58],[.76,.56,.65],[.8,.575,.7],[.84,.56,.75],[.88,.58,.6],[.92,.57,.45],[.96,.59,.35],[1.0,.57,.45],[1.04,.56,.55],[1.08,.54,.65],[1.12,.52,.55],[1.16,.52,.68],[1.22,.55,.72],[1.28,.58,.55],[1.32,.59,.5],[.7,.52,.2],[.78,.52,.75],[.84,.51,.78],[.9,.52,.72],[.96,.53,.5],[1.04,.52,.6],[1.1,.54,.35],[1.16,.5,.5],[1.22,.52,.75],[1.28,.52,.75],[1.35,.53,.55],
[.72,.63,.1],[.77,.6,.12],[.82,.64,.1],[.86,.62,.1],[.9,.64,.15],[.94,.6,.1],[.98,.62,.1],[1.02,.62,.12],[1.06,.645,.2],[1.1,.65,.12],[1.14,.62,.1],[.5,.56,.15],[.54,.55,.2],[.6,.54,.12],[.66,.59,.2],[.7,.7,.15],[.78,.7,.25],[.84,.66,.2],[.9,.67,.35],[1.16,.65,.15],[1.2,.67,.1],[1.24,.7,.15],[1.28,.72,.15],[1.15,.55,.15],[1.2,.54,.15],[1.25,.56,.15],[1.3,.56,.2],[1.33,.6,.15],[1.3,.61,.2],[1.38,.6,.2],[1.35,.63,.25],[1.31,.66,.25],[1.36,.68,.2],[1.27,.76,.1],[1.31,.78,.15],[1.22,.9,.1],[1.26,.88,.15],[1.33,.84,.25],[1.38,.84,.3],[1.43,.85,.12],[1.47,.83,.15],[1.52,.79,.15],[1.56,.79,.15],[1.62,.79,.1],[1.46,.76,.2],[1.4,.75,.3],[1.36,.75,.15],[1.33,.72,.3],[1.4,.7,.25],[1.48,.72,.2],[1.44,.67,.3],[1.5,.68,.3],[1.55,.73,.22],[1.6,.72,.25],[1.65,.72,.2],[1.7,.69,.3],[1.6,.68,.38],[1.65,.66,.32],[1.7,.66,.3],[1.75,.69,.25],[1.76,.63,.28],[1.72,.62,.3],[1.55,.655,.4],[1.5,.65,.3],[1.46,.64,.3],[1.41,.66,.2],[1.43,.62,.3],[1.38,.67,.2],[1.55,.62,.3],[1.5,.62,.25],[1.66,.62,.28],[1.59,.6,.3],[1.65,.6,.25],[1.7,.59,.25],[1.48,.59,.22],[1.44,.6,.25],[1.39,.58,.25],[1.59,.57,.28],[1.64,.56,.25],[1.53,.56,.2],[1.46,.55,.3],[1.4,.6,.3],
[1.9,.66,.3],[1.93,.67,.25],[1.97,.665,.3],[2.0,.68,.25],[2.03,.66,.3],[2.06,.65,.3],[2.1,.67,.25],[2.14,.65,.28],[2.17,.67,.2],[2.2,.655,.25],[2.22,.62,.3],[1.92,.6,.18],[1.98,.63,.28],[2.0,.61,.25],[2.03,.63,.35],[2.07,.62,.3],[2.1,.59,.3],[2.13,.62,.3],[2.16,.6,.3],[2.19,.6,.3],[2.23,.6,.3],[2.26,.61,.2],[2.27,.59,.2],[2.3,.585,.15],[2.32,.6,.15],[2.36,.6,.25],[2.4,.58,.25],[2.42,.56,.2],[2.38,.55,.2],[2.33,.55,.15],[2.44,.53,.15],[2.37,.53,.2],[2.41,.51,.15],[2.45,.5,.2],[2.15,.64,.3],[2.08,.585,.28],[2.12,.58,.3],[2.2,.57,.28],[2.26,.56,.15],
[.49,.615,.7],[.5,.605,.72],[.51,.61,.75],[.52,.6,.7],[.5,.595,.75],[.47,.63,.7],[.45,.64,.72],[.53,.59,.6],[.8,.55,.72],[.82,.55,.75],[.84,.545,.72],[.86,.53,.7],[.81,.53,.78],[.83,.525,.8],[.85,.55,.7]];

const xTicksLeft=[0,.5,1,1.5], xTickTextLeft=['0','0.5','1.0','1.5'], xMinorLeft=[.25,.75,1.25];
const yTicksLeft=[.3,.5,1,1.5,3,5], yTickTextLeft=['0.3','0.5','1.0','1.5','3.0','5.0'], yMinorLeft=[.4,.6,.7,.8,.9,2,2.5,4,6];
const xTicksRight=[0,.5,1,1.5,2,2.5,3], xTickTextRight=['0','0.5','1','1.5','2','2.5','3'];
const yTicksRight=[.3,.5,1,1.5,3,5,6], yTickTextRight=['0.3','0.5','1','1.5','3','5','6'], yMinorRight=[.4,.6,.7,.8,.9,2,4];
const cbTicksLeft=[0,.5,1,1.5], cbTextLeft=['0','0.5','1.0','1.5'];
const cbTicksRight=[0,.5,1,1.5], cbTextRight=['0','0.5','1','1.5'];

const W=2304,H=873;
const px=v=>v/W, py=v=>1-v/H;
const SANS='"Liberation Sans",Arial,sans-serif', SERIF='"Liberation Serif",serif';
const natureScale=[[0,'#2b2e7e'],[.133,'#34469b'],[.22,'#4a7fc1'],[.313,'#55c1ea'],[.38,'#6cc6b4'],[.453,'#6fc27e'],[.513,'#8fc63e'],[.587,'#cddb1f'],[.633,'#f6e80c'],[.687,'#fbaa18'],[.753,'#f36c21'],[.853,'#ee1e25'],[.933,'#b01f24'],[1,'#6b1316']];
const jet=[[0,'#00007f'],[.11,'#0000ff'],[.125,'#0000ff'],[.375,'#00ffff'],[.625,'#ffff00'],[.875,'#ff0000'],[1,'#7f0000']];
const byC=a=>a.slice().sort((p,q)=>p[2]-q[2]);
const rc=byC(rightCircles.concat(rightCirclesCore)), rt=byC(rightTriangles.concat(rightTrianglesCore));

const traces=[
{type:'scatter',mode:'markers',xaxis:'x',yaxis:'y',x:leftPoints.map(p=>p[0]),y:leftPoints.map(p=>p[1]),
 marker:{size:23,color:leftPoints.map(p=>p[2]),cmin:0,cmax:1.5,colorscale:natureScale,line:{color:'rgba(45,50,50,.72)',width:1.6},showscale:true,
 colorbar:{x:px(1051),xanchor:'left',xpad:0,y:py(93),yanchor:'top',ypad:0,lenmode:'pixels',len:625,thicknessmode:'pixels',thickness:35,outlinecolor:'#444',outlinewidth:1.5,tickmode:'array',tickvals:cbTicksLeft,ticktext:cbTextLeft,ticks:'inside',ticklen:6,tickcolor:'#222',tickfont:{family:SANS,size:34,color:'#444'}}}},
{type:'scatter',mode:'markers',xaxis:'x2',yaxis:'y2',x:rc.map(p=>p[0]),y:rc.map(p=>p[1]),
 marker:{symbol:'circle',size:14,color:rc.map(p=>p[2]),cmin:0,cmax:1.5,colorscale:jet,line:{color:'#111',width:1},showscale:true,
 colorbar:{x:px(2224),xanchor:'left',xpad:0,y:py(47),yanchor:'top',ypad:0,lenmode:'pixels',len:765,thicknessmode:'pixels',thickness:33,outlinecolor:'#555',outlinewidth:1.2,tickmode:'array',tickvals:cbTicksRight,ticktext:cbTextRight,ticks:'inside',ticklen:8,tickcolor:'#333',tickfont:{family:'"DejaVu Sans",sans-serif',size:22,color:'#333'}}}},
{type:'scatter',mode:'markers',xaxis:'x2',yaxis:'y2',x:rt.map(p=>p[0]),y:rt.map(p=>p[1]),
 marker:{symbol:'triangle-up',size:17,color:rt.map(p=>p[2]),cmin:0,cmax:1.5,colorscale:jet,line:{color:'#111',width:1},showscale:false}}
];

const ann=(t,x,y,o)=>Object.assign({text:t,xref:'paper',yref:'paper',x:px(x),y:py(y),showarrow:false,xanchor:'left',yanchor:'middle',font:{family:SANS,size:33,color:'#444'}},o||{});
const serif=(s)=>({family:SERIF,size:s,color:'#222'});
const layout={width:W,height:H,margin:{l:0,r:0,t:0,b:0},paper_bgcolor:'#edf3f6',plot_bgcolor:'#ffffff',showlegend:false,
 xaxis:{domain:[px(158),px(1027)],range:[0,1.752],tickmode:'array',tickvals:xTicksLeft,ticktext:xTickTextLeft,ticks:'inside',ticklen:10,tickwidth:1.5,tickcolor:'#444',showgrid:false,zeroline:false,showline:true,linecolor:'#444',linewidth:2.5,mirror:'ticks',automargin:false,tickfont:{family:SANS,size:30,color:'#444'},
  minor:{tickmode:'array',tickvals:xMinorLeft,ticks:'inside',ticklen:10,tickwidth:1.5,tickcolor:'#444',showgrid:false},
  title:{text:'Edge safety factor, <i>q</i><sub>a</sub>',standoff:17,font:{family:SANS,size:35,color:'#444'}}},
 yaxis:{domain:[py(767),py(34.5)],type:'log',range:[Math.log10(.223),Math.log10(7)],tickmode:'array',tickvals:yTicksLeft,ticktext:yTickTextLeft,ticks:'inside',ticklen:10,tickwidth:1.5,tickcolor:'#444',showgrid:false,zeroline:false,showline:true,linecolor:'#444',linewidth:2.5,mirror:'ticks',automargin:false,tickfont:{family:SANS,size:30,color:'#444'},
  minor:{tickmode:'array',tickvals:yMinorLeft,ticks:'inside',ticklen:10,tickwidth:1.5,tickcolor:'#444',showgrid:false},
  title:{text:'Potential field decay index, <i>n</i>',standoff:23,font:{family:SANS,size:33,color:'#444'}}},
 xaxis2:{domain:[px(1291.6),px(2186)],anchor:'y2',range:[0,3],tickmode:'array',tickvals:xTicksRight,ticktext:xTickTextRight,ticks:'inside',ticklen:10,tickwidth:1,tickcolor:'#555',showgrid:true,gridcolor:'#e4e4e4',gridwidth:1,zeroline:false,showline:true,linecolor:'#666',linewidth:1.5,mirror:'ticks',automargin:false,tickfont:{family:'"Open Sans",sans-serif',size:28,color:'#333'}},
 yaxis2:{domain:[py(811),py(48.5)],anchor:'x2',type:'log',range:[Math.log10(.25),Math.log10(6)],tickmode:'array',tickvals:yTicksRight,ticktext:yTickTextRight,ticks:'inside',ticklen:10,tickwidth:1,tickcolor:'#555',showgrid:true,gridcolor:'#e8e8e8',gridwidth:2,zeroline:false,showline:true,linecolor:'#666',linewidth:1.5,mirror:'ticks',automargin:false,tickfont:{family:'"Open Sans",sans-serif',size:28,color:'#333'},
  minor:{tickmode:'array',tickvals:yMinorRight,ticks:'inside',ticklen:5,tickwidth:1,tickcolor:'#777',showgrid:true,gridcolor:'#cfcfcf',griddash:'dot',gridwidth:1}},
 shapes:[
  {type:'rect',xref:'paper',yref:'paper',x0:px(1194),x1:1,y0:0,y1:py(31),fillcolor:'#ffffff',line:{width:0},layer:'below'},
  {type:'rect',xref:'x',yref:'y domain',x0:.768,x1:.911,y0:0,y1:1,fillcolor:'#c6c6c6',line:{width:0},layer:'below'},
  {type:'rect',xref:'x domain',yref:'y',x0:0,x1:1,y0:.726,y1:.873,fillcolor:'#c6c6c6',line:{width:0},layer:'below'},
  {type:'rect',xref:'x2',yref:'y2 domain',x0:.767,x1:.908,y0:0,y1:1,fillcolor:'#bdbdbd',line:{width:0},layer:'below'},
  {type:'rect',xref:'x2 domain',yref:'y2',x0:0,x1:1,y0:.726,y1:.875,fillcolor:'#bdbdbd',line:{width:0},layer:'below'}
 ],
 annotations:[
  ann('ultimately confined, and the final region is unstable and eruptive.',1191,-10.5,{xanchor:'center',font:{family:'Lato,sans-serif',size:70,color:'#000'}}),
  ann('Eruptive',197,87),ann('Failed torus',973,87,{xanchor:'right'}),ann('Failed kink',206,718),ann('Stable',978,718,{xanchor:'right'}),
  ann('Instability amplitude, ⟨δ<i>z</i>⟩/<i>x</i><sub>f</sub>',1174,401,{xanchor:'center',textangle:-90,font:{family:SANS,size:33,color:'#555'}}),
  ann('Eruptive',1315,79,{font:serif(31)}),ann('Failed Torus',2112,79,{xanchor:'right',font:serif(31)}),
  ann('Failed Kink',1315,771,{font:serif(31)}),ann('Stable',2112,771,{xanchor:'right',font:serif(31)}),
  ann('Experimental decay index, <i>n</i>',1209,431,{xanchor:'center',textangle:-90,font:serif(33)}),
  ann('Edge safety factor, <i>q</i><sub>a</sub>',1737,877,{xanchor:'center',font:serif(33)})
 ]};
Plotly.newPlot('c',traces,layout,{displayModeBar:false,responsive:false});
</script></body></html>
